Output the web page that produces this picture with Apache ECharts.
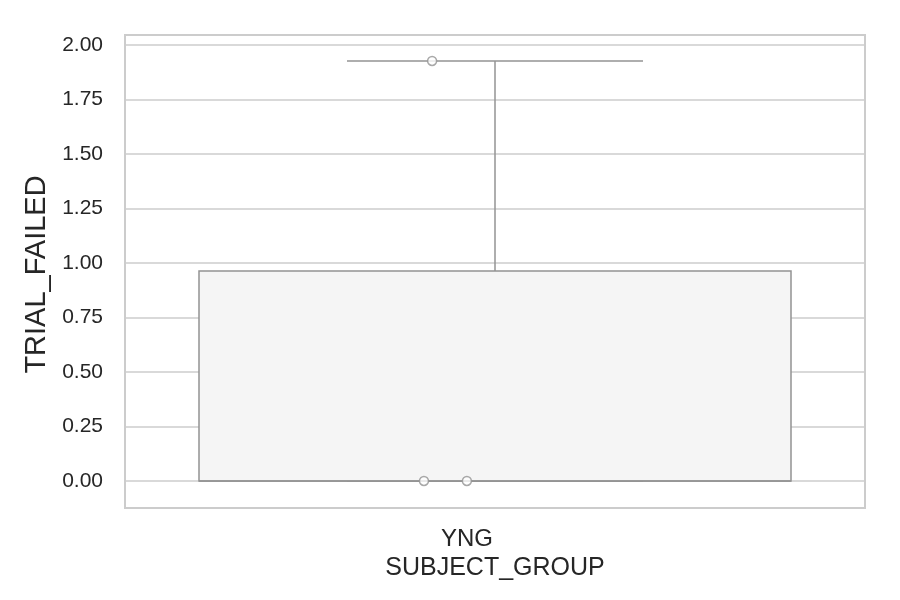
<!DOCTYPE html>
<html>
<head>
<meta charset="utf-8">
<script src="https://cdn.jsdelivr.net/npm/echarts@6/dist/echarts.min.js"></script>
<style>html,body{margin:0;padding:0;background:#fff}#c{width:900px;height:600px}</style>
</head>
<body>
<div id="c"></div>
<script>
// ---- data ----
var categories = ['YNG'];
var observations = [1.927, 0, 0];        // raw TRIAL_FAILED values
var jitter = [-0.085, -0.096, -0.038];   // strip-plot horizontal jitter (category units)
var whiskerLow = [0];
var q1 = [0];
var median = [0];
var q3 = [0.963];
var whiskerHigh = [1.927];
var yTicks = [0, 0.25, 0.5, 0.75, 1.0, 1.25, 1.5, 1.75, 2.0];

var LINE = '#939393';
var FILL = '#f5f5f5';
var TEXT = '#262626';
var FONT = 'Liberation Sans, Arial, sans-serif';

var boxData = categories.map(function (c, i) {
  return [i, whiskerLow[i], q1[i], median[i], q3[i], whiskerHigh[i]];
});
var pointData = observations.map(function (v, i) { return [jitter[i], v]; });

var chart = echarts.init(document.getElementById('c'));
chart.setOption({
  backgroundColor: '#ffffff',
  animation: false,
  grid: { left: 125, right: 35, top: 35, bottom: 92, show: true, borderColor: '#cccccc', borderWidth: 2, backgroundColor: 'transparent' },
  xAxis: {
    type: 'value', min: -0.5, max: 0.5,
    name: 'SUBJECT_GROUP', nameLocation: 'middle', nameGap: 42,
    nameTextStyle: { fontFamily: FONT, fontSize: 25, color: TEXT },
    axisLine: { show: false }, axisTick: { show: false }, splitLine: { show: false },
    axisLabel: { customValues: [0], formatter: function (v) { return categories[Math.round(v)] || ''; },
      fontFamily: FONT, fontSize: 24, color: TEXT, margin: 19, padding: [0, 56, 0, 0] }
  },
  yAxis: {
    type: 'value', min: -0.124, max: 2.046,
    name: 'TRIAL_FAILED', nameLocation: 'middle', nameGap: 74,
    nameTextStyle: { fontFamily: FONT, fontSize: 29, color: TEXT, padding: [0, 6, 0, 0] },
    axisLine: { show: false },
    axisTick: { show: false, customValues: yTicks },
    splitLine: { show: true, lineStyle: { color: '#cccccc', width: 1.5 } },
    axisLabel: { customValues: yTicks, formatter: function (v) { return v.toFixed(2); },
      fontFamily: FONT, fontSize: 21, color: TEXT, margin: 22 }
  },
  series: [
    {
      type: 'custom',
      data: boxData,
      z: 3,
      renderItem: function (params, api) {
        var x = api.value(0);
        var lo = api.coord([x, api.value(1)]);
        var b1 = api.coord([x, api.value(2)]);
        var md = api.coord([x, api.value(3)]);
        var b3 = api.coord([x, api.value(4)]);
        var hi = api.coord([x, api.value(5)]);
        var half = api.size([0.4, 0])[0];
        var cap = half / 2;
        var cx = lo[0];
        var ls = { stroke: LINE, lineWidth: 1.5 };
        return {
          type: 'group',
          children: [
            { type: 'line', shape: { x1: cx, y1: b3[1], x2: cx, y2: hi[1] }, style: ls },
            { type: 'line', shape: { x1: cx, y1: lo[1], x2: cx, y2: b1[1] }, style: ls },
            { type: 'line', shape: { x1: cx - cap, y1: hi[1], x2: cx + cap, y2: hi[1] }, style: ls },
            { type: 'line', shape: { x1: cx - cap, y1: lo[1], x2: cx + cap, y2: lo[1] }, style: ls },
            { type: 'rect', shape: { x: cx - half, y: b3[1], width: 2 * half, height: b1[1] - b3[1] },
              style: { fill: FILL, stroke: LINE, lineWidth: 1.5 } },
            { type: 'line', shape: { x1: cx - half, y1: md[1], x2: cx + half, y2: md[1] }, style: ls }
          ]
        };
      }
    },
    {
      type: 'scatter',
      data: pointData,
      z: 5,
      symbol: 'circle',
      symbolSize: 9,
      itemStyle: { color: '#ffffff', borderColor: LINE, borderWidth: 1.5 }
    }
  ]
});
</script>
</body>
</html>
